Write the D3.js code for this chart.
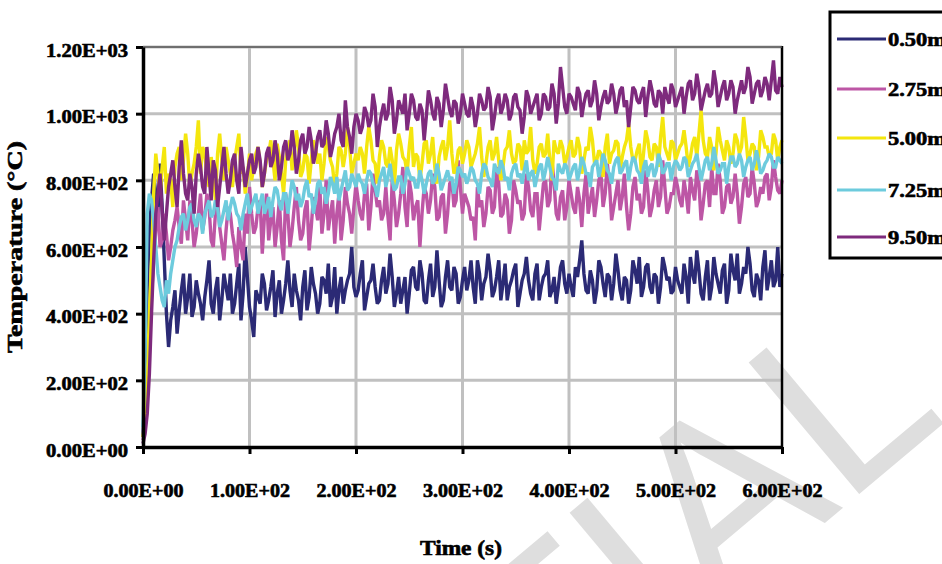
<!DOCTYPE html>
<html><head><meta charset="utf-8">
<script src="https://cdn.jsdelivr.net/npm/d3@7"></script>
<style>html,body{margin:0;padding:0;background:#fff;overflow:hidden}</style>
</head><body>
<svg id="chart" width="942" height="564"></svg>
<script>
// ---- data ----
const seriesNames = ["0.50m", "2.75m", "5.00m", "7.25m", "9.50m"];
const time = d3.range(0, 601, 2); // sampling instants (s)
const xTicks = [0, 100, 200, 300, 400, 500, 600];
const xTickLabels = ["0.00E+00", "1.00E+02", "2.00E+02", "3.00E+02", "4.00E+02", "5.00E+02", "6.00E+02"];
const yTicks = [0, 200, 400, 600, 800, 1000, 1200];
const yTickLabels = ["0.00E+00", "2.00E+02", "4.00E+02", "6.00E+02", "8.00E+02", "1.00E+03", "1.20E+03"];

const t050 = [
  30, 200, 480, 650, 740, 820, 760, 700, 850, 720, 560, 400, 300, 380, 420, 470, 340, 410, 470, 520, 400, 450, 520, 390, 420, 500, 460, 430, 380, 450, 500, 560, 430, 400, 470, 510, 380, 440, 520, 480, 440, 520, 400, 430, 490, 550, 380, 460, 600, 510, 420,
  380, 330, 470, 450, 430, 520, 490, 410, 440, 480, 530, 390, 460, 500, 400, 440, 490, 560, 470, 420, 520, 470, 440, 380, 480, 530, 410, 450, 540, 490, 460, 400, 430, 510, 500, 460, 550, 420, 450, 540, 400, 470, 510, 430, 470, 500, 520, 600, 480, 450,
  470, 520, 560, 410, 450, 490, 500, 550, 480, 430, 440, 500, 540, 460, 490, 580, 510, 420, 460, 510, 430, 470, 510, 400, 460, 530, 540, 480, 470, 560, 520, 440, 430, 500, 550, 450, 480, 590, 500, 420, 440, 510, 560, 480, 470, 540, 520, 430, 450, 500,
  540, 470, 500, 560, 480, 430, 560, 520, 440, 490, 510, 580, 530, 450, 470, 510, 560, 440, 490, 550, 440, 480, 500, 530, 550, 420, 460, 500, 520, 570, 500, 460, 440, 520, 550, 440, 480, 510, 520, 560, 450, 470, 510, 430, 480, 540, 560, 490, 460, 520,
  480, 450, 540, 510, 560, 620, 520, 470, 460, 530, 500, 430, 470, 560, 540, 490, 450, 520, 510, 440, 490, 580, 530, 470, 440, 510, 500, 430, 470, 560, 530, 490, 570, 450, 480, 540, 550, 480, 460, 520, 510, 430, 480, 570, 540, 500, 510, 460, 470, 540,
  500, 480, 460, 550, 510, 430, 570, 520, 490, 590, 530, 460, 440, 510, 560, 440, 480, 570, 520, 490, 460, 530, 550, 430, 470, 580, 530, 500, 580, 460, 490, 540, 520, 600, 550, 470, 450, 520, 500, 440, 540, 590, 470, 510, 560, 480, 500, 600, 480, 520
];
const t275 = [
  20, 60, 150, 300, 450, 560, 650, 720, 600, 620, 700, 640, 560, 600, 650, 680, 720, 660, 610, 740, 680, 620, 740, 680, 600, 640, 700, 760, 650, 690, 760, 720, 620, 600, 700, 740, 660, 610, 560, 650, 720, 700, 640, 600, 540, 660, 600, 560, 700, 640, 780,
  700, 640, 660, 720, 740, 580, 690, 760, 620, 680, 720, 600, 660, 740, 620, 560, 760, 700, 600, 650, 720, 780, 680, 620, 640, 710, 740, 590, 660, 750, 720, 680, 780, 640, 700, 800, 650, 700, 740, 610, 700, 760, 620, 680, 780, 730, 700, 640, 720, 790,
  740, 700, 680, 760, 790, 650, 720, 820, 770, 720, 740, 680, 700, 780, 690, 620, 800, 740, 660, 700, 760, 840, 720, 660, 800, 760, 680, 720, 740, 600, 700, 780, 760, 700, 740, 820, 780, 680, 690, 750, 760, 640, 700, 790, 800, 720, 740, 860, 780, 700,
  760, 740, 720, 680, 690, 620, 780, 720, 740, 660, 700, 780, 770, 700, 720, 840, 790, 690, 700, 760, 740, 640, 680, 800, 770, 730, 740, 680, 700, 820, 780, 710, 690, 760, 760, 650, 720, 790, 800, 720, 740, 860, 790, 700, 680, 750, 770, 680, 720, 800,
  760, 720, 700, 780, 740, 660, 760, 820, 700, 740, 780, 690, 740, 800, 820, 720, 760, 850, 790, 680, 720, 760, 800, 710, 750, 820, 720, 650, 700, 780, 810, 740, 760, 700, 720, 830, 770, 690, 720, 770, 800, 720, 750, 860, 780, 700, 720, 760, 760, 810,
  780, 740, 720, 800, 760, 700, 810, 770, 740, 830, 790, 680, 730, 790, 800, 720, 840, 760, 760, 850, 800, 700, 720, 780, 790, 730, 750, 820, 760, 670, 720, 790, 810, 750, 760, 840, 790, 720, 740, 780, 760, 810, 820, 740, 780, 860, 810, 770, 760, 800
];
const t500 = [
  30, 80, 200, 400, 560, 760, 880, 820, 760, 840, 900, 760, 820, 800, 720, 840, 880, 900, 800, 860, 940, 880, 780, 820, 850, 900, 980, 820, 900, 880, 820, 780, 870, 820, 740, 880, 940, 860, 800, 900, 860, 820, 780, 860, 900, 940, 820, 840, 760, 810, 880,
  800, 840, 880, 900, 850, 780, 820, 860, 880, 920, 860, 800, 910, 870, 820, 760, 860, 900, 920, 830, 880, 950, 900, 810, 830, 880, 870, 790, 860, 920, 900, 850, 880, 800, 850, 930, 900, 860, 840, 780, 820, 900, 890, 840, 880, 960, 900, 820, 850, 880,
  860, 900, 880, 820, 900, 960, 920, 860, 850, 790, 870, 920, 900, 850, 840, 900, 860, 780, 890, 940, 910, 870, 860, 820, 900, 960, 840, 880, 870, 800, 850, 910, 920, 850, 880, 930, 840, 790, 870, 900, 920, 860, 900, 980, 880, 820, 840, 890, 900, 850,
  880, 920, 900, 840, 860, 880, 910, 960, 870, 810, 850, 900, 920, 860, 880, 930, 860, 800, 840, 890, 900, 950, 880, 850, 860, 910, 900, 830, 920, 880, 890, 960, 860, 820, 850, 900, 910, 870, 880, 940, 860, 800, 920, 890, 880, 920, 900, 850, 870, 900,
  920, 870, 880, 930, 900, 820, 860, 900, 890, 960, 920, 850, 860, 890, 880, 810, 900, 940, 850, 880, 890, 920, 910, 830, 870, 900, 920, 970, 900, 860, 860, 890, 910, 820, 880, 950, 920, 870, 860, 910, 900, 840, 930, 990, 900, 880, 860, 920, 910, 860,
  880, 900, 910, 950, 900, 840, 870, 910, 930, 870, 940, 1010, 920, 880, 870, 930, 900, 830, 880, 960, 920, 890, 860, 920, 900, 850, 880, 940, 920, 880, 900, 990, 930, 860, 880, 910, 900, 830, 870, 950, 930, 900, 900, 870, 880, 940, 920, 860, 900, 920
];
const t725 = [
  60, 300, 700, 760, 740, 680, 600, 520, 480, 440, 420, 500, 460, 520, 560, 600, 620, 660, 690, 700, 650, 680, 720, 730, 680, 660, 700, 690, 640, 700, 720, 740, 690, 700, 740, 720, 660, 680, 710, 740, 680, 720, 750, 730, 700, 690, 650, 700, 730, 760, 700,
  720, 740, 760, 700, 730, 760, 700, 720, 750, 690, 740, 780, 770, 730, 710, 760, 760, 700, 750, 800, 780, 740, 760, 720, 740, 780, 800, 750, 760, 700, 740, 790, 800, 760, 780, 730, 760, 810, 790, 760, 810, 740, 770, 800, 830, 770, 780, 820, 800, 780,
  820, 800, 790, 760, 800, 830, 820, 790, 780, 750, 800, 820, 840, 780, 810, 850, 800, 770, 780, 810, 810, 760, 790, 840, 820, 800, 810, 780, 780, 830, 800, 760, 790, 820, 830, 790, 800, 850, 820, 770, 790, 810, 830, 800, 810, 760, 790, 840, 830, 810,
  820, 790, 810, 840, 830, 800, 790, 760, 820, 850, 840, 810, 800, 780, 850, 830, 820, 860, 840, 800, 810, 770, 820, 840, 850, 810, 820, 790, 830, 860, 800, 820, 830, 780, 810, 840, 850, 800, 830, 870, 840, 810, 800, 770, 850, 830, 820, 850, 840, 800,
  820, 840, 850, 800, 830, 870, 850, 820, 820, 780, 840, 850, 860, 810, 840, 880, 860, 830, 820, 790, 840, 860, 870, 820, 830, 850, 860, 800, 840, 870, 860, 830, 820, 790, 840, 860, 810, 840, 850, 810, 830, 880, 860, 820, 830, 850, 850, 800, 840, 860,
  850, 830, 840, 870, 860, 810, 830, 850, 860, 880, 840, 800, 830, 860, 870, 830, 850, 900, 860, 820, 830, 850, 850, 790, 840, 870, 870, 840, 850, 880, 860, 810, 840, 860, 870, 830, 850, 890, 860, 820, 830, 850, 860, 880, 870, 840, 840, 870, 860, 850
];
const t950 = [
  10, 40, 100, 220, 400, 560, 700, 760, 820, 700, 620, 700, 780, 820, 860, 780, 720, 840, 920, 820, 760, 740, 820, 780, 700, 820, 880, 840, 780, 760, 900, 820, 740, 860, 830, 720, 780, 840, 900, 820, 760, 800, 860, 880, 800, 760, 900, 840, 780, 820, 860,
  880, 820, 840, 900, 860, 780, 820, 880, 900, 840, 860, 920, 880, 800, 840, 900, 920, 860, 880, 950, 900, 820, 860, 920, 940, 880, 900, 960, 920, 850, 880, 930, 950, 900, 910, 980, 940, 870, 900, 940, 960, 1000, 920, 900, 1040, 960, 930, 880, 960, 1000,
  980, 940, 960, 1020, 1000, 960, 980, 1060, 1020, 900, 960, 1000, 1030, 980, 1000, 1080, 1040, 940, 980, 1040, 1020, 1000, 1060, 950, 1000, 1060, 1040, 990, 980, 1030, 1010, 920, 990, 1070, 1040, 1000, 980, 1050, 1030, 960, 1010, 1090, 1050, 1010, 990, 1040, 1030, 970, 1000, 1060,
  1030, 1000, 990, 1050, 1020, 960, 1000, 1060, 1040, 1010, 1020, 1080, 1050, 950, 990, 1040, 1060, 1000, 1020, 1060, 1040, 980, 1000, 1050, 1060, 1020, 1010, 940, 990, 1070, 1050, 1000, 1020, 1040, 1060, 980, 1000, 1060, 1050, 1010, 1020, 1090, 1060, 970, 1030, 1140, 1080, 1020, 1000, 1060,
  1050, 1030, 1010, 1080, 1060, 990, 1030, 1060, 1070, 1020, 1040, 1100, 1060, 980, 1020, 1050, 1070, 1030, 1040, 1090, 1060, 1000, 1030, 1070, 1080, 1020, 1040, 960, 1020, 1080, 1070, 1040, 1030, 1060, 1080, 990, 1050, 1100, 1070, 1030, 1020, 1070, 1060, 1000, 1080, 1050, 1030, 1090, 1070, 1020,
  1040, 1060, 1080, 1000, 1050, 1090, 1100, 1040, 1060, 1120, 1080, 1010, 1040, 1070, 1090, 1050, 1060, 1130, 1090, 1020, 1050, 1080, 1100, 1040, 1060, 1100, 1080, 1000, 1040, 1070, 1100, 1060, 1080, 1140, 1110, 1030, 1060, 1090, 1100, 1050, 1070, 1110, 1090, 1040, 1100, 1160, 1070, 1060, 1110, 1080
];
const seriesValues = [t050, t275, t500, t725, t950];
const colors = ["#2b2a75", "#bd56a5", "#f4e60e", "#6dcbdd", "#7e2a7d"];

// ---- layout ----
const svg = d3.select("#chart");
const L = 143, R = 782, T = 47, B = 447;
const x = d3.scaleLinear().domain([0, 600]).range([L, R]);
const y = d3.scaleLinear().domain([0, 1200]).range([B, T]);
const serif = "'Liberation Serif','Times New Roman',serif";

// watermark (behind everything)
svg.append("text")
  .attr("transform", "translate(950,418) rotate(-40)")
  .attr("text-anchor", "end")
  .attr("font-family", "'Liberation Sans',Arial,sans-serif")
  .attr("font-size", 250)
  .attr("fill", "#dedede")
  .text("CONFIDENTIAL");

// gridlines
const grid = svg.append("g").attr("stroke", "#c0c0c0").attr("stroke-width", 3);
grid.selectAll(".gx").data(xTicks.filter(d => d > 0 && d < 600)).join("line")
  .attr("x1", d => x(d)).attr("x2", d => x(d)).attr("y1", T).attr("y2", B);
grid.selectAll(".gy").data(yTicks.filter(d => d > 0)).join("line")
  .attr("x1", L).attr("x2", R).attr("y1", d => y(d)).attr("y2", d => y(d));

// series
const line = d3.line().x((d, i) => x(time[i])).y(d => y(d));
svg.append("g").selectAll("path").data(seriesValues).join("path")
  .attr("d", d => line(d))
  .attr("fill", "none")
  .attr("stroke", (d, i) => colors[i])
  .attr("stroke-width", 3.4)
  .attr("stroke-linejoin", "miter")
  .attr("stroke-miterlimit", 2);

// frame
svg.append("line").attr("x1", R).attr("x2", R).attr("y1", T - 1).attr("y2", B).attr("stroke", "#000").attr("stroke-width", 2.5);
svg.append("line").attr("x1", L).attr("x2", R).attr("y1", T).attr("y2", T).attr("stroke", "#555").attr("stroke-width", 1.5);

// axes
const xAxis = svg.append("g").attr("transform", `translate(0,${B})`)
  .call(d3.axisBottom(x).tickValues(xTicks).tickFormat((d, i) => xTickLabels[i]).tickSize(7).tickSizeOuter(0));
const yAxis = svg.append("g").attr("transform", `translate(${L},0)`)
  .call(d3.axisLeft(y).tickValues(yTicks).tickFormat((d, i) => yTickLabels[i]).tickSize(7).tickSizeOuter(0));
[xAxis, yAxis].forEach(a => {
  a.select(".domain").attr("stroke", "#000").attr("stroke-width", 3.5);
  a.selectAll(".tick line").attr("stroke", "#000").attr("stroke-width", 3);
  a.selectAll(".tick text").attr("fill", "#000").attr("stroke", "#000").attr("stroke-width", 0.6)
    .attr("font-family", serif).attr("font-weight", "bold").attr("font-size", 18);
});
xAxis.selectAll(".tick text").attr("y", 0).attr("dy", 0).attr("transform", "translate(0,50)")
  .attr("textLength", 80).attr("lengthAdjust", "spacingAndGlyphs");
yAxis.selectAll(".tick text").attr("x", -15).attr("dy", "0.5em")
  .attr("textLength", 82).attr("lengthAdjust", "spacingAndGlyphs");

// axis titles
svg.append("text").attr("transform", "translate(22,247) rotate(-90)")
  .attr("text-anchor", "middle").attr("font-family", serif).attr("font-weight", "bold")
  .attr("stroke", "#000").attr("stroke-width", 0.6)
  .attr("font-size", 20).attr("textLength", 212).attr("lengthAdjust", "spacingAndGlyphs")
  .text("Temperature (°C)");
svg.append("text").attr("x", 461).attr("y", 555)
  .attr("text-anchor", "middle").attr("font-family", serif).attr("font-weight", "bold")
  .attr("stroke", "#000").attr("stroke-width", 0.6)
  .attr("font-size", 20).attr("textLength", 82).attr("lengthAdjust", "spacingAndGlyphs")
  .text("Time (s)");

// legend
const lg = svg.append("g");
lg.append("rect").attr("x", 830).attr("y", 12).attr("width", 140).attr("height", 246)
  .attr("fill", "#fff").attr("stroke", "#000").attr("stroke-width", 3);
const legY = [39, 89, 138, 190, 237];
seriesNames.forEach((n, i) => {
  lg.append("line").attr("x1", 837).attr("x2", 886).attr("y1", legY[i]).attr("y2", legY[i])
    .attr("stroke", colors[i]).attr("stroke-width", 3);
  lg.append("text").attr("x", 888).attr("y", legY[i]).attr("dy", "0.35em")
    .attr("font-family", serif).attr("font-weight", "bold").attr("font-size", 19)
    .attr("stroke", "#000").attr("stroke-width", 0.6)
    .attr("textLength", 58).attr("lengthAdjust", "spacingAndGlyphs")
    .text(n);
});
</script>
</body></html>
